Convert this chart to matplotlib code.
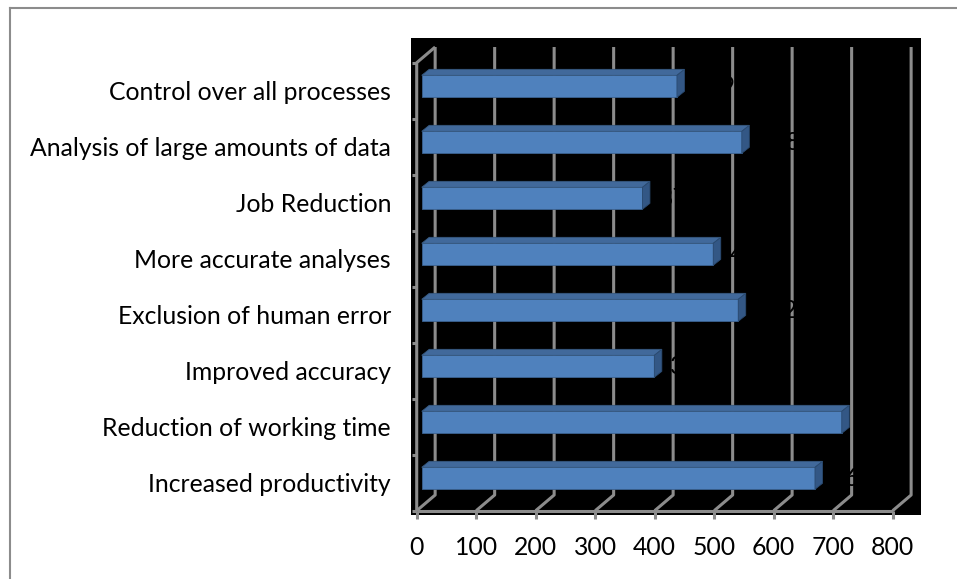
import numpy as np
import matplotlib.pyplot as plt
from matplotlib.lines import Line2D

plt.rcParams['font.family'] = ['Lato', 'DejaVu Sans']

# categories listed bottom to top, as drawn
categories = [
    "Increased productivity",
    "Reduction of working time",
    "Improved accuracy",
    "Exclusion of human error",
    "More accurate analyses",
    "Job Reduction",
    "Analysis of large amounts of data",
    "Control over all processes",
]
values = [661, 706, 391, 532, 490, 371, 538, 429]
ticks = np.arange(0, 900, 100)

W, H = 957, 579
FS = 17.8
fig = plt.figure(figsize=(W / 100, H / 100), dpi=100)
fig.patch.set_facecolor("white")

ax = fig.add_axes([411 / W, 1 - 515 / H, (921 - 411) / W, (515 - 38) / H])
ax.set_facecolor("black")
ax.set_xlim(-9.6, 847.6)
ax.set_ylim(-0.077, 8.441)
for s in ax.spines.values():
    s.set_visible(False)

# fake 3d box: depth offset of the back wall, in data units
DX, DY = 31, 0.28
grid = dict(color="#8c8c8c", lw=2.2, solid_capstyle="butt", zorder=1)
n = len(categories)
for t in ticks:
    ax.plot([t, t + DX, t + DX], [0, DY, n + DY], **grid)
    ax.plot([t, t], [0, -0.14], clip_on=False, **grid)
ax.plot([0, ticks[-1]], [0, 0], **grid)
ax.plot([0, 0, DX], [0, n, n + DY], **grid)
for i in range(n + 1):
    ax.plot([0, -8.4], [i, i], clip_on=False, **grid)

# bars sit a bit into the depth, with their own small depth
fdx, fdy = 8.4, 0.078
bh = 0.393
bdx, bdy = 12.6, 0.107
for i, v in enumerate(values):
    yc = i + 0.5 + fdy
    yb, yt = yc - bh / 2, yc + bh / 2
    x0, x1 = fdx, fdx + v
    ax.barh(yc, v, left=x0, height=bh, color="#4f81bd",
            edgecolor="#3b6291", lw=0.6, zorder=3)
    ax.fill([x0, x1, x1 + bdx, x0 + bdx], [yt, yt, yt + bdy, yt + bdy],
            color="#41699b", ec="#36587f", lw=0.6, zorder=3)
    ax.fill([x1, x1 + bdx, x1 + bdx, x1], [yb, yb + bdy, yt + bdy, yt],
            color="#335785", ec="#2a4a70", lw=0.6, zorder=3)
    # labels are black on black, they only show over the gridlines
    ax.text(x1 + 27, yc, str(v), color="black", fontsize=FS,
            va="center", ha="left", zorder=4)

ax.set_xticks(ticks, labels=[str(t) for t in ticks])
ax.set_yticks(np.arange(n) + 0.5, labels=categories)
ax.tick_params(axis="x", length=0, pad=15, labelsize=FS)
ax.tick_params(axis="y", length=0, pad=14.4, labelsize=FS)

# chart border (cut off at right and bottom in the original)
bc = dict(color="#8c8c8c", lw=1.5, transform=fig.transFigure)
fig.add_artist(Line2D([9.5 / W, 9.5 / W], [0, 1 - 7.5 / H], **bc))
fig.add_artist(Line2D([9.5 / W, 1], [1 - 7.5 / H, 1 - 7.5 / H], **bc))

fig.savefig("out.png", dpi=100)
